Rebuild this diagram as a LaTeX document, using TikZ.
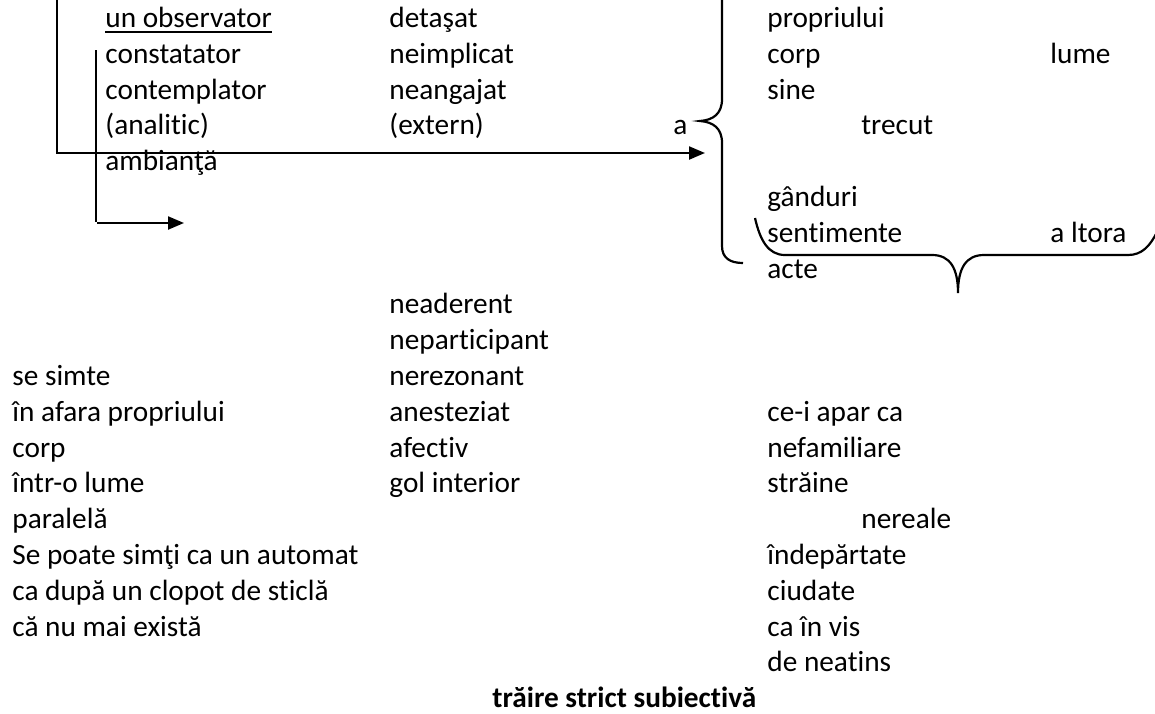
\documentclass[tikz,border=0pt]{standalone}
\usepackage{fontspec}
\setmainfont{Carlito}[Ligatures=CommonOff]
\usepackage{tikz}
\usetikzlibrary{arrows.meta}

\begin{document}
\begin{tikzpicture}[x=0.5pt,y=-0.5pt,
    txt/.style={anchor=base west,inner sep=0pt,font=\fontsize{14.65}{17.9}\selectfont},
    ln/.style={line width=1.1pt},
    arr/.style={ln,-{Triangle[length=8pt,width=6.5pt]}}]
  \useasboundingbox (0,0) rectangle (1155,713);
  % upper block
  \node[txt] (obs)   at (105,27.5)  {un observator};
  \node[txt] (cons)  at (105,63.3)  {constatator};
  \node[txt] (cont)  at (105,99.1)  {contemplator};
  \node[txt] (anal)  at (105,134.9) {(analitic)};
  \node[txt] (amb)   at (105,170.7) {ambianţă};
  \node[txt] (det)   at (389,27.5)  {detaşat};
  \node[txt] (neimp) at (389,63.3)  {neimplicat};
  \node[txt] (neang) at (389,99.1)  {neangajat};
  \node[txt] (ext)   at (389,134.9) {(extern)};
  \node[txt] (a)     at (673,134.9) {a};
  \node[txt] (prop)  at (767,27.5)  {propriului};
  \node[txt] (corpA) at (767,63.3)  {corp};
  \node[txt] (sine)  at (767,99.1)  {sine};
  \node[txt] (trec)  at (861,134.9) {trecut};
  \node[txt] (lume)  at (1050,63.3) {lume};
  \node[txt] (gand)  at (767,206.5) {gânduri};
  \node[txt] (sent)  at (767,242.3) {sentimente};
  \node[txt] (alt)   at (1050,242.3) {a ltora};
  \node[txt] (acte)  at (767,278.1) {acte};
  \draw[line width=0.9pt] ([yshift=-2.1pt]obs.base west) -- ([yshift=-2.1pt]obs.base east);
  % lines and arrows
  \coordinate (topA) at (57,-5);
  \coordinate (tipA) at (705,153);
  \draw[arr] (topA) |- (tipA);
  \coordinate (topB) at (96,50);
  \coordinate (botB) at (96,222);
  \draw[ln] (topB) -- (botB);
  \coordinate (startC) at (97,223);
  \coordinate (tipC) at (184,223);
  \draw[arr] (startC) -- (tipC);
  % braces
  \draw[ln] (722,-5) -- (722,99) .. controls (722,114) and (713,120) .. (700,121)
        .. controls (713,122) and (722,128) .. (722,143) -- (722,246)
        .. controls (722,258) and (730,263) .. (743,263);
  \draw[ln] (755,218) .. controls (760,240) and (768,255) .. (785,255) -- (932,255)
        .. controls (950,255) and (958,268) .. (958,293)
        .. controls (958,268) and (966,255) .. (984,255) -- (1128,255)
        .. controls (1142,255) and (1150,246) .. (1157,232);
  % lower block
  \node[txt] (nead)  at (389,313.9) {neaderent};
  \node[txt] (nepar) at (389,349.7) {neparticipant};
  \node[txt] (nerez) at (389,385.5) {nerezonant};
  \node[txt] (anes)  at (389,421.3) {anesteziat};
  \node[txt] (afec)  at (389,457.1) {afectiv};
  \node[txt] (gol)   at (389,492.9) {gol interior};
  \node[txt] (simte) at (12,385.5)  {se simte};
  \node[txt] (afara) at (12,421.3)  {în afara propriului};
  \node[txt] (corpB) at (12,457.1)  {corp};
  \node[txt] (olume) at (12,492.9)  {într-o lume};
  \node[txt] (par)   at (12,528.7)  {paralelă};
  \node[txt] (autom) at (12,564.5)  {Se poate simţi ca un automat};
  \node[txt] (clop)  at (12,600.3)  {ca după un clopot de sticlă};
  \node[txt] (exist) at (12,636.1)  {că nu mai există};
  \node[txt] (apar)  at (767,421.3) {ce-i apar ca};
  \node[txt] (nefam) at (767,457.1) {nefamiliare};
  \node[txt] (strai) at (767,492.9) {străine};
  \node[txt] (nere)  at (861,528.7) {nereale};
  \node[txt] (indep) at (767,564.5) {îndepărtate};
  \node[txt] (ciud)  at (767,600.3) {ciudate};
  \node[txt] (vis)   at (767,636.1) {ca în vis};
  \node[txt] (neat)  at (767,671.9) {de neatins};
  \node[txt,font=\fontsize{14.65}{17.9}\selectfont\bfseries] (trai) at (492,707.7) {trăire strict subiectivă};
\end{tikzpicture}
\end{document}
